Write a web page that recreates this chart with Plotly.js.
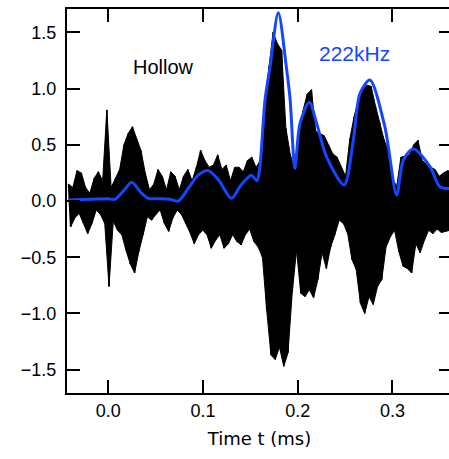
<!DOCTYPE html>
<html>
<head>
<meta charset="utf-8">
<script src="https://cdn.plot.ly/plotly-3.0.1.min.js"></script>
<style>
html,body{margin:0;padding:0;overflow:hidden;background:#fff;}
#chart{width:456px;height:459px;}
</style>
</head>
<body>
<div id="chart"></div>
<script>
// Black waveform: one positive and one negative peak per carrier cycle (222 kHz)
var tStart = -0.042;      // ms, time of first positive peak
var period = 0.0045;      // ms, carrier period
var upperPeaks = [0.15,0.12,0.27,0.25,0.12,0.07,0.2,0.26,0.18,0.81,
  0.12,0.2,0.28,0.5,0.6,0.66,0.55,0.45,0.25,0.1,
  0.15,0.28,0.22,0.1,0.26,0.22,0.1,0.22,0.28,0.18,
  0.3,0.45,0.36,0.3,0.32,0.41,0.28,0.32,0.18,0.3,
  0.3,0.26,0.36,0.39,0.3,0.36,0.85,1.2,1.5,1.4,
  1.34,0.65,0.42,0.29,0.55,0.8,0.95,0.99,0.62,0.6,
  0.58,0.5,0.42,0.39,0.3,0.22,0.55,0.75,0.9,1.0,
  1.03,1.02,0.85,0.7,0.55,0.45,0.2,0.13,0.39,0.4,
  0.41,0.5,0.54,0.36,0.33,0.3,0.28,0.22,0.25,0.27,0.25];
var lowerPeaks = [-0.23,-0.15,-0.11,-0.2,-0.29,-0.2,-0.08,-0.12,-0.2,-0.76,
  -0.18,-0.26,-0.3,-0.44,-0.56,-0.64,-0.45,-0.3,-0.14,-0.17,
  -0.12,-0.08,-0.2,-0.27,-0.15,-0.08,-0.12,-0.2,-0.28,-0.38,
  -0.3,-0.26,-0.3,-0.42,-0.35,-0.3,-0.42,-0.38,-0.3,-0.36,
  -0.39,-0.3,-0.25,-0.36,-0.41,-0.5,-0.97,-1.37,-1.41,-1.3,
  -1.47,-1.35,-0.81,-0.44,-0.82,-0.85,-0.79,-0.86,-0.7,-0.46,
  -0.6,-0.41,-0.3,-0.17,-0.2,-0.29,-0.52,-0.61,-0.91,-1.0,
  -0.85,-0.92,-0.76,-0.7,-0.41,-0.32,-0.26,-0.45,-0.58,-0.6,
  -0.64,-0.38,-0.46,-0.35,-0.26,-0.29,-0.25,-0.28,-0.27,-0.26,-0.25];

// Blue envelope
var envT = [-0.042,-0.02,0.0,0.007,0.016,0.0247,0.034,0.042,0.055,0.065,
  0.074,0.085,0.095,0.1056,0.117,0.130,0.14,0.151,0.157,0.160,
  0.1655,0.1707,0.1795,0.188,0.192,0.197,0.2024,0.2123,0.22,0.2306,
  0.249,0.2587,0.2658,0.2763,0.292,0.3045,0.3115,0.322,0.3397,0.350,0.362];
var envY = [0.01,0.015,0.02,0.015,0.09,0.166,0.08,0.024,0.02,0.015,
  0.0,0.12,0.23,0.27,0.18,0.024,0.14,0.23,0.18,0.3,
  0.9,1.19,1.674,1.19,0.9,0.29,0.69,0.877,0.69,0.39,
  0.142,0.54,0.957,1.076,0.66,0.053,0.364,0.462,0.305,0.127,0.11];

var xTicks = [0.0,0.1,0.2,0.3];
var xTickText = ['0.0','0.1','0.2','0.3'];
var yTicks = [-1.5,-1.0,-0.5,0.0,0.5,1.0,1.5];
var yTickText = ['\u22121.5','\u22121.0','\u22120.5','0.0','0.5','1.0','1.5'];

// zig-zag waveform and the band it sweeps
var sigX = [], sigY = [];
var upX = [], lowX = [];
for (var i = 0; i < upperPeaks.length; i++) {
  var tu = tStart + i*period, tl = tStart + (i+0.5)*period;
  sigX.push(tu); sigY.push(upperPeaks[i]);
  sigX.push(tl); sigY.push(lowerPeaks[i]);
  upX.push(tu); lowX.push(tl);
}
var bandX = upX.concat(lowX.slice().reverse());
var bandY = upperPeaks.concat(lowerPeaks.slice().reverse());

var blue = '#1446ff';
var font = '"Liberation Sans", Arial, sans-serif';
var titleFont = '"DejaVu Sans", "Liberation Sans", sans-serif';

var data = [
  {x: bandX, y: bandY, type: 'scatter', mode: 'lines', fill: 'toself',
   fillcolor: '#000', line: {color: '#000', width: 1}, hoverinfo: 'skip'},
  {x: sigX, y: sigY, type: 'scatter', mode: 'lines',
   line: {color: '#000', width: 1.5}, hoverinfo: 'skip'},
  {x: envT, y: envY, type: 'scatter', mode: 'lines',
   line: {color: blue, width: 3, shape: 'spline', smoothing: 0.8}, hoverinfo: 'skip'}
];

var axisCommon = {
  showline: true, linecolor: '#000', linewidth: 2, mirror: 'ticks',
  ticks: 'inside', ticklen: 13, tickwidth: 2, tickcolor: '#000',
  showgrid: false, zeroline: false,
  tickfont: {family: font, size: 18, color: '#000'}
};

var layout = {
  width: 456, height: 459,
  margin: {l: 67, r: 4, t: 9, b: 66},
  paper_bgcolor: '#fff', plot_bgcolor: '#fff',
  showlegend: false,
  xaxis: Object.assign({}, axisCommon, {
    range: [-0.0436, 0.3629], tickmode: 'array', tickvals: xTicks, ticktext: xTickText,
    title: {text: 'Time t (ms)', font: {family: titleFont, size: 18, color: '#000'}, standoff: 13}
  }),
  yaxis: Object.assign({}, axisCommon, {
    range: [-1.707, 1.707], tickmode: 'array', tickvals: yTicks, ticktext: yTickText,
    ticklabelstandoff: 5
  }),
  annotations: [
    {x: 0.0578, y: 1.191, xref: 'x', yref: 'y', text: 'Hollow', showarrow: false,
     font: {family: font, size: 20, color: '#000'}},
    {x: 0.2595, y: 1.307, xref: 'x', yref: 'y', text: '222kHz', showarrow: false,
     font: {family: font, size: 21, color: blue}}
  ]
};

Plotly.newPlot('chart', data, layout, {displayModeBar: false, staticPlot: true});
</script>
</body>
</html>
